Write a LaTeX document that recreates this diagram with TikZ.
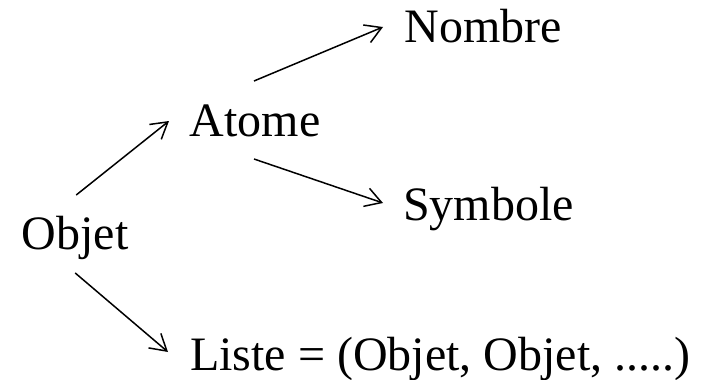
\documentclass[tikz,border=0pt]{standalone}
\usepackage{fontspec}
\setmainfont{Liberation Serif}
\usetikzlibrary{arrows.meta}
\tikzset{
  lbl/.style={anchor=base west, inner sep=0pt, font=\fontsize{48}{58}\selectfont},
  arr/.style={line width=1.5pt, -{Straight Barb[length=16pt,width=19pt,line width=1.5pt]}}
}
\begin{document}
\begin{tikzpicture}[x=1pt,y=-1pt]
\useasboundingbox (0,0) rectangle (707,380);
\node[lbl] (objet) at (21.5,249) {Objet};
\node[lbl] (atome) at (189.5,136) {Atome};
\node[lbl] (nombre) at (404.5,42) {Nombre};
\node[lbl] (symbole) at (403,220) {Symbole};
\node[lbl] (liste) at (190,370) {Liste = (Objet, Objet, .....)};
\draw[arr] ([shift={(1.2pt,54pt)}]objet.base) -- ([shift={(-20.5pt,15pt)}]atome.base west);
\draw[arr] ([shift={(64.5pt,55pt)}]atome.base west) -- ([shift={(-21.5pt,15pt)}]nombre.base west);
\draw[arr] ([shift={(64.5pt,-23pt)}]atome.base west) -- ([shift={(-20pt,17pt)}]symbole.base west);
\draw[arr] ([shift={(0.2pt,-24pt)}]objet.base) -- ([shift={(-22pt,18pt)}]liste.base west);
\end{tikzpicture}
\end{document}
